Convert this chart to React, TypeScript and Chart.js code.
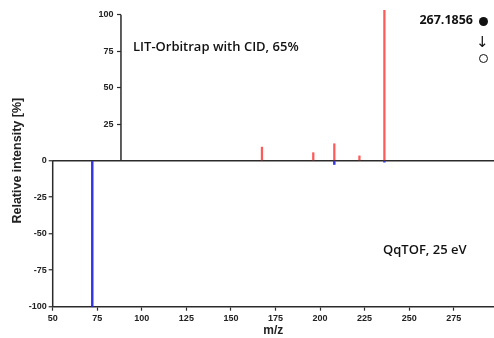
import React, { useEffect, useRef } from 'react';
import { Chart, registerables } from 'chart.js';

Chart.register(...registerables);

// LIT-Orbitrap with CID, 65% (upper spectrum)
const orbitrapMz = [167.4, 196.2, 208.0, 222.1, 236.1];
const orbitrapIntensity = [9.3, 5.5, 11.6, 3.3, 103];
// QqTOF, 25 eV (lower, mirrored spectrum)
const qtofMz = [72.2, 208.0, 236.1];
const qtofIntensity = [-100, -2.6, -1];

const xTickValues = [50, 75, 100, 125, 150, 175, 200, 225, 250, 275];
const yTickLower = [-100, -75, -50, -25, 0];
const yTickUpper = [25, 50, 75, 100];
const upperAxisMz = 88.3;
const xMin = 50;
const xMax = 297.6;

const upperLabel = 'LIT-Orbitrap with CID, 65%';
const lowerLabel = 'QqTOF, 25 eV';
const precursorLabel = '267.1856';

const axisColor = '#2b2b2b';
const tickFont = { family: 'Liberation Sans', size: 9, weight: 'bold' as const };

const splitAxesPlugin = {
  id: 'splitAxes',
  beforeDatasetsDraw(chart: any) {
    const { ctx, chartArea } = chart;
    const x = chart.scales.x;
    const y = chart.scales.y;
    ctx.save();
    ctx.strokeStyle = axisColor;
    ctx.lineWidth = 1.5;
    ctx.beginPath();
    ctx.moveTo(chartArea.left, y.getPixelForValue(0));
    ctx.lineTo(chartArea.left, y.getPixelForValue(-100));
    const ux = x.getPixelForValue(upperAxisMz);
    ctx.moveTo(ux, y.getPixelForValue(0));
    ctx.lineTo(ux, y.getPixelForValue(100));
    ctx.stroke();
    ctx.restore();
  },
};

export default function App() {
  const canvasRef = useRef<HTMLCanvasElement | null>(null);

  useEffect(() => {
    if (!canvasRef.current) return;
    const chart = new Chart(canvasRef.current, {
      type: 'bar',
      data: {
        datasets: [
          {
            label: 'LIT-Orbitrap',
            data: orbitrapMz.map((m, i) => ({ x: m, y: orbitrapIntensity[i] })),
            backgroundColor: 'rgba(255, 60, 60, 0.85)',
            barThickness: 1.6,
            grouped: false,
            clip: false,
          } as any,
          {
            label: 'QqTOF',
            data: qtofMz.map((m, i) => ({ x: m, y: qtofIntensity[i] })),
            backgroundColor: 'rgba(30, 30, 235, 0.9)',
            barThickness: 1.8,
            grouped: false,
            clip: false,
          } as any,
        ],
      },
      options: {
        animation: false,
        responsive: false,
        maintainAspectRatio: false,
        layout: { padding: { top: 14.7, left: 0, right: 0, bottom: 0 } },
        plugins: { legend: { display: false }, tooltip: { enabled: false } },
        scales: {
          x: {
            type: 'linear',
            offset: false,
            min: xMin,
            max: xMax,
            afterBuildTicks: (s: any) => {
              s.ticks = xTickValues.map((v) => ({ value: v }));
            },
            afterFit: (s: any) => {
              s.height = 31.3;
            },
            grid: {
              offset: false,
              drawOnChartArea: false,
              drawTicks: true,
              tickLength: 4,
              tickColor: axisColor,
              tickWidth: 1.2,
            },
            border: { display: true, color: axisColor, width: 1.5 },
            ticks: { color: '#222', font: tickFont, padding: 2, maxRotation: 0 },
            title: {
              display: true,
              text: 'm/z',
              color: '#222',
              font: { family: 'Liberation Sans', size: 12, weight: 'bold' },
              padding: { top: 0, bottom: 0 },
            },
          },
          y: {
            position: 'left',
            min: -100,
            max: 100,
            afterBuildTicks: (s: any) => {
              s.ticks = yTickLower.map((v) => ({ value: v }));
            },
            afterFit: (s: any) => {
              s.width = 52.7;
            },
            grid: {
              color: (c: any) => (c.tick && c.tick.value === 0 ? axisColor : 'transparent'),
              lineWidth: 1.5,
              drawTicks: true,
              tickLength: 4,
              tickColor: axisColor,
              tickWidth: 1.2,
            },
            border: { display: false },
            ticks: { color: '#222', font: tickFont, padding: 2 },
            title: {
              display: true,
              text: 'Relative intensity [%]',
              color: '#222',
              font: { family: 'Liberation Sans', size: 12.5, weight: 'bold' },
              padding: { top: 10.5, bottom: 0 },
            },
          },
          yTop: {
            position: { x: upperAxisMz },
            min: -100,
            max: 100,
            afterBuildTicks: (s: any) => {
              s.ticks = yTickUpper.map((v) => ({ value: v }));
            },
            grid: {
              drawOnChartArea: false,
              drawTicks: true,
              tickLength: 4,
              tickColor: axisColor,
              tickWidth: 1.2,
            },
            border: { display: false },
            ticks: {
              color: '#222',
              font: tickFont,
              padding: 2,
              callback: (v: any) => String(v) + '   ',
            },
          },
        } as any,
      },
      plugins: [splitAxesPlugin],
    });
    return () => chart.destroy();
  }, []);

  const textBase: React.CSSProperties = {
    position: 'absolute',
    fontFamily: '"Open Sans", sans-serif',
    color: '#111',
    whiteSpace: 'nowrap',
    lineHeight: 1,
  };

  return (
    <div style={{ position: 'absolute', left: 0, top: 0, width: 494, height: 338 }}>
      <canvas ref={canvasRef} width={494} height={338} style={{ display: 'block' }} />
      <div style={{ ...textBase, left: 133, top: 39.5, fontSize: 13, fontWeight: 600 }}>{upperLabel}</div>
      <div style={{ ...textBase, left: 383, top: 242.5, fontSize: 13, fontWeight: 600 }}>{lowerLabel}</div>
      <div style={{ ...textBase, right: 494 - 473, top: 13.5, fontSize: 12.5, fontWeight: 700 }}>{precursorLabel}</div>
      <div
        style={{
          position: 'absolute',
          left: 478.5,
          top: 16.5,
          width: 9,
          height: 9,
          borderRadius: '50%',
          background: '#111',
        }}
      />
      <div style={{ ...textBase, left: 476, top: 34.5, fontSize: 15, fontFamily: '"DejaVu Sans", sans-serif' }}>↓</div>
      <div
        style={{
          position: 'absolute',
          left: 478.5,
          top: 53.5,
          width: 7.5,
          height: 7.5,
          borderRadius: '50%',
          border: '1px solid #111',
          background: '#fff',
        }}
      />
    </div>
  );
}
